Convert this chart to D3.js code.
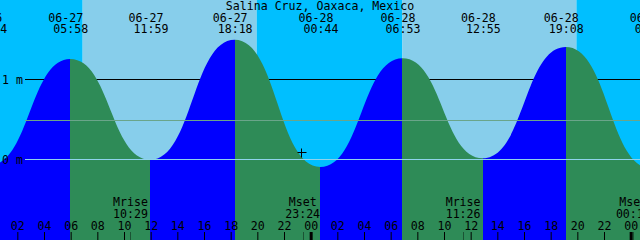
<!DOCTYPE html>
<html>
<head>
<meta charset="utf-8">
<script src="https://cdn.jsdelivr.net/npm/d3@7"></script>
<style>
  html, body { margin: 0; padding: 0; background: #fff; }
  svg { display: block; }
  text { font-family: "DejaVu Sans Mono", "Liberation Mono", monospace; font-size: 11.6px; fill: #000; }
</style>
</head>
<body>
<svg id="chart" width="640" height="240"></svg>
<script>
// ---- data ----
const title = "Salina Cruz, Oaxaca, Mexico";
const viewStart = "06-27 00:42";
const viewEnd = "06-29 00:42";
const tideTimes = ["06-26 23:54", "06-27 05:58", "06-27 11:59", "06-27 18:18", "06-28 00:44", "06-28 06:53", "06-28 12:55", "06-28 19:08", "06-29 01:35"];
const tideHeights = [-0.08, 1.25, -0.01, 1.49, -0.10, 1.26, 0.01, 1.40, -0.12];
const sunTimes = ["06-27 06:54", "06-27 19:57", "06-28 06:53", "06-28 19:56"]; // rise, set, rise, set
const moonLabels = ["Mrise", "Mset", "Mrise", "Mset"];
const moonTimes = ["06-27 10:29", "06-27 23:24", "06-28 11:26", "06-29 00:12"];
const depthLevels = [1, 0];
const depthLabels = ["1 m", "0 m"];
const meanLevel = 0.49;
const nowTime = "06-27 23:17";
const nowLevel = 0.09;

// ---- setup ----
const W = 640, H = 240;
const parse = d3.utcParse("%m-%d %H:%M");
const svg = d3.select("#chart");

const x = d3.scaleUtc().domain([parse(viewStart), parse(viewEnd)]).range([0, W]);
const y = d3.scaleLinear().domain([0, 1]).range([159, 79]);

const tides = tideTimes.map((t, i) => ({ t: parse(t), h: tideHeights[i], label: t }));

// ---- day / night background ----
const sunDates = sunTimes.map(parse);
const bounds = [x.domain()[0], ...sunDates, x.domain()[1]];
const bg = [];
for (let i = 0; i < bounds.length - 1; i++) {
  bg.push({ a: bounds[i], b: bounds[i + 1], night: i % 2 === 0 });
}
svg.append("g").selectAll("rect").data(bg).join("rect")
  .attr("x", d => x(d.a)).attr("y", 0)
  .attr("width", d => x(d.b) - x(d.a)).attr("height", H)
  .attr("fill", d => d.night ? "#00BFFF" : "#87CEEB");

// ---- depth line behind water (1 m) ----
svg.append("line")
  .attr("x1", 25).attr("x2", W)
  .attr("y1", y(1) + 0.5).attr("y2", y(1) + 0.5)
  .attr("stroke", "#000").attr("stroke-width", 1);

// ---- tide fill ----
const area = d3.area()
  .x(d => x(d.t)).y0(H).y1(d => y(d.h))
  .curve(d3.curveBumpX);

svg.append("clipPath").attr("id", "water")
  .append("path").attr("d", area(tides));

const segs = [];
for (let i = 0; i < tides.length - 1; i++) {
  segs.push({ a: tides[i].t, b: tides[i + 1].t, rising: tides[i + 1].h > tides[i].h });
}
svg.append("g").attr("clip-path", "url(#water)")
  .selectAll("rect").data(segs).join("rect")
  .attr("x", d => Math.round(x(d.a))).attr("y", 0)
  .attr("width", d => Math.round(x(d.b)) - Math.round(x(d.a))).attr("height", H)
  .attr("fill", d => d.rising ? "#0000FF" : "#2E8B57");

// ---- mean and datum lines over the water ----
svg.append("line")
  .attr("x1", 25).attr("x2", W)
  .attr("y1", Math.round(y(meanLevel)) + 0.5).attr("y2", Math.round(y(meanLevel)) + 0.5)
  .attr("stroke", "#6aa58a").attr("stroke-width", 1);
svg.append("line")
  .attr("x1", 25).attr("x2", W)
  .attr("y1", y(0) + 0.5).attr("y2", y(0) + 0.5)
  .attr("stroke", "#8fd3ec").attr("stroke-width", 1);

// ---- depth labels ----
svg.append("g").selectAll("text").data(depthLevels).join("text")
  .attr("x", 2).attr("y", d => y(d) + 4.5)
  .text((d, i) => depthLabels[i]);

// ---- title ----
svg.append("text").attr("x", W / 2).attr("y", 10).attr("text-anchor", "middle").text(title);

// ---- tide event labels ----
const tl = svg.append("g").selectAll("g").data(tides).join("g");
tl.append("text").attr("x", d => x(d.t) - 4.5).attr("y", 21.7)
  .attr("text-anchor", "middle").text(d => d.label.split(" ")[0]);
tl.append("text").attr("x", d => x(d.t) + 0.5).attr("y", 33.3)
  .attr("text-anchor", "middle").text(d => d.label.split(" ")[1]);

// ---- moon events ----
const moons = moonTimes.map((t, i) => ({ t: parse(t), name: moonLabels[i], label: t.split(" ")[1] }));
const ml = svg.append("g").selectAll("g").data(moons).join("g");
ml.append("text").attr("x", d => x(d.t)).attr("y", 206).attr("text-anchor", "middle").text(d => d.name);
ml.append("text").attr("x", d => x(d.t)).attr("y", 218.3).attr("text-anchor", "middle").text(d => d.label);
ml.append("line")
  .attr("x1", d => Math.round(x(d.t)) + 0.5).attr("x2", d => Math.round(x(d.t)) + 0.5)
  .attr("y1", 232).attr("y2", H)
  .attr("stroke", "rgba(0,0,0,0.4)");

// ---- hour axis ----
const axis = d3.axisTop(x)
  .ticks(d3.utcHour.every(2))
  .tickFormat(d3.utcFormat("%H"))
  .tickSize(8).tickPadding(2);
const ag = svg.append("g").attr("transform", `translate(0,${H})`).call(axis);
ag.select(".domain").remove();
ag.selectAll("text").attr("font-family", null).attr("font-size", null).attr("fill", "#000");
ag.selectAll(".tick line").attr("stroke", "#000")
  .attr("stroke-width", d => d.getUTCHours() === 0 ? 3 : 1);

// ---- "now" cross ----
const cx = Math.round(x(parse(nowTime))) + 0.5, cy = Math.round(y(nowLevel)) + 0.5;
svg.append("path")
  .attr("d", `M${cx - 4},${cy}H${cx + 5}M${cx},${cy - 4}V${cy + 5}`)
  .attr("stroke", "#000").attr("stroke-width", 1).attr("fill", "none");
</script>
</body>
</html>
